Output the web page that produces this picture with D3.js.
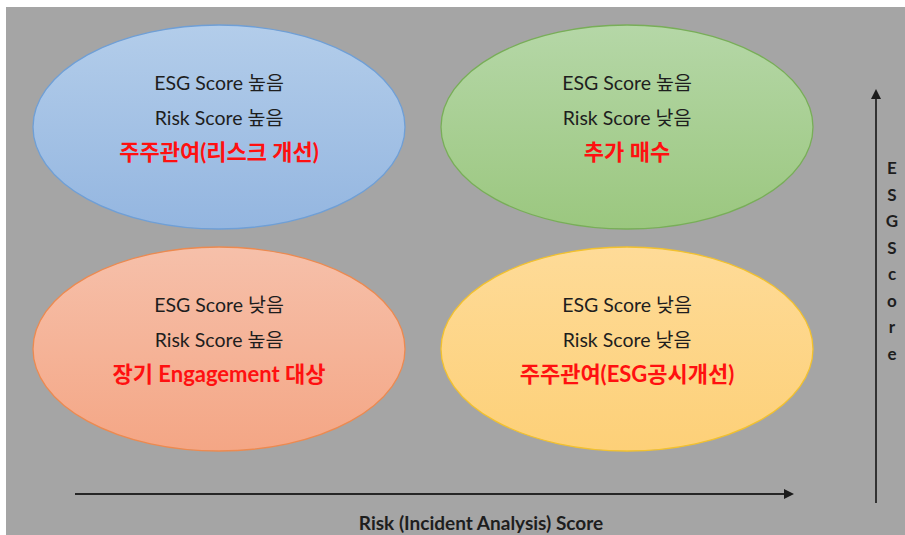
<!DOCTYPE html>
<html>
<head>
<meta charset="utf-8">
<script src="https://cdn.jsdelivr.net/npm/d3@7"></script>
<style>
  body { margin: 0; background: #ffffff; }
  svg { display: block; }
</style>
</head>
<body>
<svg id="matrix"></svg>
<script>
// quadrant data (top-left, top-right, bottom-left, bottom-right)
const riskLevels = ["높음", "낮음"];   // columns, left to right
const esgLevels = ["높음", "낮음"];    // rows, top to bottom
const quadEsg = ["높음", "높음", "낮음", "낮음"];
const quadRisk = ["높음", "낮음", "높음", "낮음"];
const quadAction = ["주주관여(리스크 개선)", "추가 매수", "장기 Engagement 대상", "주주관여(ESG공시개선)"];
const xTitle = "Risk (Incident Analysis) Score";
const yTitle = "ESG Score";

function getConfig() {
  let width = 905;
  let height = 535;
  let container = d3.select("#matrix")
    .attr("width", width)
    .attr("height", height);
  return {width, height, container};
}

function getScales() {
  let xScale = d3.scalePoint()
    .domain(riskLevels)
    .range([219, 627]);
  let yScale = d3.scalePoint()
    .domain(esgLevels)
    .range([127, 349]);
  return {xScale, yScale};
}

// office-like fills: top colour, bottom colour, outline
const fills = [
  ["#b3cdea", "#94b6e0", "#6f9fd6"],
  ["#b5d7a7", "#9bc77f", "#78ae58"],
  ["#f6c0aa", "#f4a685", "#ec8a50"],
  ["#fedb98", "#fdd078", "#f2c12e"]
];

function drawMatrix() {
  let {width, height, container} = getConfig();
  let {xScale, yScale} = getScales();

  // gray panel
  container.append("rect")
    .attr("x", 6)
    .attr("y", 7)
    .attr("width", width - 6)
    .attr("height", height - 7)
    .style("fill", "#a5a5a5");

  let defs = container.append("defs");
  fills.forEach((f, i) => {
    let g = defs.append("linearGradient")
      .attr("id", "grad" + i)
      .attr("x1", 0).attr("y1", 0).attr("x2", 0).attr("y2", 1);
    g.append("stop").attr("offset", "0%").attr("stop-color", f[0]);
    g.append("stop").attr("offset", "100%").attr("stop-color", f[1]);
  });
  defs.append("marker")
    .attr("id", "arrow")
    .attr("viewBox", "0 0 10 10")
    .attr("refX", 0)
    .attr("refY", 5)
    .attr("markerWidth", 5)
    .attr("markerHeight", 5)
    .attr("markerUnits", "strokeWidth")
    .attr("orient", "auto")
    .append("path")
    .attr("d", "M0,0 L10,5 L0,10 z")
    .style("fill", "#1a1a1a");

  let idx = d3.range(quadAction.length);

  let quads = container.selectAll("g.quad")
    .data(idx)
    .enter()
    .append("g")
    .attr("class", "quad")
    .attr("transform", i => `translate(${xScale(quadRisk[i])},${yScale(quadEsg[i])})`);

  quads.append("ellipse")
    .attr("rx", 186)
    .attr("ry", 102)
    .style("fill", i => `url(#grad${i})`)
    .style("stroke", i => fills[i][2])
    .style("stroke-width", 1.3);

  let font = "Lato, 'Noto Sans CJK KR', sans-serif";

  quads.append("text")
    .attr("y", -37)
    .text(i => "ESG Score " + quadEsg[i]);
  quads.append("text")
    .attr("y", -2)
    .text(i => "Risk Score " + quadRisk[i]);
  quads.selectAll("text")
    .attr("text-anchor", "middle")
    .style("font-family", font)
    .style("font-size", "19.5px")
    .style("fill", "#1e1e1e");

  quads.append("text")
    .attr("y", 33)
    .attr("text-anchor", "middle")
    .style("font-family", font)
    .style("font-size", "22px")
    .style("font-weight", "bold")
    .style("fill", "#ff1010")
    .text(i => quadAction[i]);

  // x axis arrow
  container.append("line")
    .attr("x1", 75).attr("y1", 494)
    .attr("x2", 784).attr("y2", 494)
    .style("stroke", "#262626")
    .style("stroke-width", 2)
    .attr("marker-end", "url(#arrow)");

  container.append("text")
    .attr("x", 481)
    .attr("y", 530)
    .attr("text-anchor", "middle")
    .style("font-family", font)
    .style("font-size", "19px")
    .style("font-weight", "bold")
    .style("fill", "#1e1e1e")
    .text(xTitle);

  // y axis arrow
  container.append("line")
    .attr("x1", 876).attr("y1", 503)
    .attr("x2", 876).attr("y2", 99)
    .style("stroke", "#333333")
    .style("stroke-width", 2)
    .attr("marker-end", "url(#arrow)");

  let letters = yTitle.replace(" ", "").split("");
  container.append("g")
    .selectAll("text")
    .data(letters)
    .enter()
    .append("text")
    .attr("x", 892)
    .attr("y", (d, i) => 174 + i * 26.5)
    .attr("text-anchor", "middle")
    .style("font-family", font)
    .style("font-size", "17px")
    .style("font-weight", "bold")
    .style("fill", "#1e1e1e")
    .text(d => d);
}

drawMatrix();
</script>
</body>
</html>
